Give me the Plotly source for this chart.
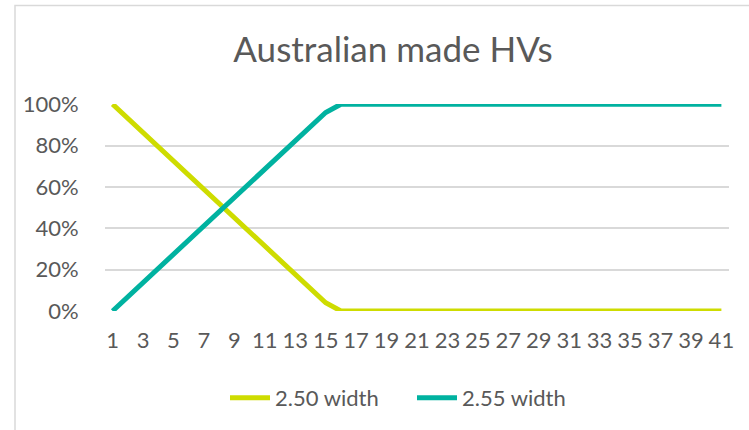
import plotly.graph_objects as go

# category axis 1..41
periods = list(range(1, 42))

# share of Australian made HVs by width (fraction)
width_250 = [1.000, 0.931, 0.863, 0.794, 0.726, 0.657, 0.589, 0.520, 0.451, 0.383,
             0.314, 0.246, 0.177, 0.109, 0.040, 0.000] + [0.000] * 25
width_255 = [0.000, 0.069, 0.137, 0.206, 0.274, 0.343, 0.411, 0.480, 0.549, 0.617,
             0.686, 0.754, 0.823, 0.891, 0.960, 1.000] + [1.000] * 25

series_names = ["2.50 width", "2.55 width"]
series_colors = ["#CEDC00", "#00B2A0"]

W, H = 749, 430
L, R, T, B = 105, 20, 104, 118
plot_w = W - L - R
plot_h = H - T - B

text_gray = "#595959"
font_family = "Lato, 'Open Sans', sans-serif"

fig = go.Figure()
for name, vals, color in zip(series_names, [width_250, width_255], series_colors):
    fig.add_trace(go.Scatter(
        x=periods, y=vals, mode="lines", name=name,
        line=dict(color=color, width=5),
    ))

# chart area border (Excel style)
fig.add_shape(
    type="rect", xref="paper", yref="paper",
    x0=(15 - L) / plot_w, x1=(W + 20 - L) / plot_w,
    y0=-(H + 20 - T - plot_h) / plot_h, y1=(T + plot_h - 5) / plot_h,
    line=dict(color="#D9D9D9", width=1.5), fillcolor="rgba(0,0,0,0)",
    layer="below",
)

fig.update_layout(
    width=W, height=H,
    margin=dict(l=L, r=R, t=T, b=B),
    paper_bgcolor="white", plot_bgcolor="white",
    font=dict(family=font_family, color=text_gray, size=22),
    title=dict(text="Australian made HVs", x=393 / W, xanchor="center",
               y=1 - 50 / H, yanchor="middle",
               font=dict(size=35, color=text_gray, family=font_family)),
    legend=dict(orientation="h", x=(412 - L) / plot_w, xanchor="center",
                y=-(398 - T - plot_h) / plot_h, yanchor="middle",
                font=dict(size=22, color=text_gray), itemwidth=40,
                entrywidth=132, entrywidthmode="pixels", tracegroupgap=0),
    showlegend=True,
)

fig.update_xaxes(
    range=[0.5, 41.5], tickmode="array", tickvals=periods[::2],
    ticktext=[str(p) for p in periods[::2]],
    showgrid=False, zeroline=False, showline=False,
    ticks="outside", ticklen=10, tickcolor="rgba(0,0,0,0)",
    tickfont=dict(size=22, color=text_gray),
)
fig.update_yaxes(
    range=[0, 1.001], tickmode="array", tickvals=[0, 0.2, 0.4, 0.6, 0.8, 1.0],
    tickformat=".0%", showgrid=True, gridcolor="#D9D9D9", gridwidth=1.5,
    zeroline=False, showline=False,
    ticks="outside", ticklen=21, tickcolor="rgba(0,0,0,0)",
    tickfont=dict(size=22, color=text_gray),
)

fig.write_html("out.html", config={"displayModeBar": False},
               post_script="document.body.style.margin = '0';")
